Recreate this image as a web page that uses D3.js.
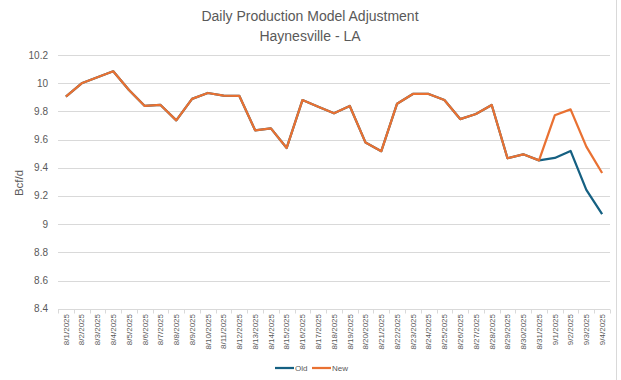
<!DOCTYPE html>
<html lang="en">
<head>
    <meta charset="UTF-8">
    <title>daily-production</title>
    <script src="https://cdn.jsdelivr.net/npm/d3@7"></script>
    <style>
        body { margin: 0; background: #fff; }
        text { font-family: "Liberation Sans", Arial, sans-serif; fill: #595959; }
    </style>
</head>
<body>
    <svg class="chart"></svg>
</body>
<script>
    // categories
    var dates = ['8/1/2025', '8/2/2025', '8/3/2025', '8/4/2025', '8/5/2025', '8/6/2025', '8/7/2025',
        '8/8/2025', '8/9/2025', '8/10/2025', '8/11/2025', '8/12/2025', '8/13/2025', '8/14/2025',
        '8/15/2025', '8/16/2025', '8/17/2025', '8/18/2025', '8/19/2025', '8/20/2025', '8/21/2025',
        '8/22/2025', '8/23/2025', '8/24/2025', '8/25/2025', '8/26/2025', '8/27/2025', '8/28/2025',
        '8/29/2025', '8/30/2025', '8/31/2025', '9/1/2025', '9/2/2025', '9/3/2025', '9/4/2025'];

    // series
    var newVals = [9.905, 10.00, 10.043, 10.085, 9.952, 9.839, 9.846, 9.737, 9.889, 9.931, 9.912,
        9.910, 9.666, 9.680, 9.541, 9.881, 9.834, 9.787, 9.839, 9.579, 9.518, 9.855, 9.924, 9.924,
        9.881, 9.746, 9.782, 9.846, 9.468, 9.496, 9.453, 9.773, 9.815, 9.550, 9.363];
    var oldVals = [9.905, 10.00, 10.043, 10.085, 9.952, 9.839, 9.846, 9.737, 9.889, 9.931, 9.912,
        9.910, 9.666, 9.680, 9.541, 9.881, 9.834, 9.787, 9.839, 9.579, 9.518, 9.855, 9.924, 9.924,
        9.881, 9.746, 9.782, 9.846, 9.468, 9.496, 9.453, 9.470, 9.520, 9.243, 9.072];

    var yTicks = [8.4, 8.6, 8.8, 9, 9.2, 9.4, 9.6, 9.8, 10, 10.2];

    var width = 621, height = 380;
    var plotLeft = 58, plotRight = 610, plotTop = 55.1, plotBottom = 308.7;

    var svg = d3.select('.chart')
        .attr('width', width)
        .attr('height', height);

    var x = d3.scaleBand()
        .domain(dates)
        .range([plotLeft, plotRight]);

    var y = d3.scaleLinear()
        .domain([8.4, 10.2])
        .range([plotBottom, plotTop]);

    // right border
    svg.append('line')
        .attr('x1', 616.5).attr('x2', 616.5)
        .attr('y1', 0).attr('y2', height)
        .attr('stroke', '#d9d9d9');

    // title
    svg.append('text')
        .attr('x', 310).attr('y', 21)
        .attr('text-anchor', 'middle')
        .style('font-size', '14px')
        .text('Daily Production Model Adjustment');
    svg.append('text')
        .attr('x', 310).attr('y', 41)
        .attr('text-anchor', 'middle')
        .style('font-size', '14px')
        .text('Haynesville - LA');

    // gridlines
    svg.append('g')
        .selectAll('line')
        .data(yTicks)
        .enter()
        .append('line')
        .attr('x1', plotLeft).attr('x2', plotRight)
        .attr('y1', function (d) { return Math.round(y(d)) + 0.5; })
        .attr('y2', function (d) { return Math.round(y(d)) + 0.5; })
        .attr('stroke', '#d9d9d9')
        .attr('stroke-width', 1);

    // y labels
    svg.append('g')
        .selectAll('text')
        .data(yTicks)
        .enter()
        .append('text')
        .attr('x', 48)
        .attr('y', function (d) { return y(d); })
        .attr('dy', '0.35em')
        .attr('text-anchor', 'end')
        .style('font-size', '10px')
        .text(function (d) { return d; });

    svg.append('text')
        .attr('transform', 'translate(23,183) rotate(-90)')
        .attr('text-anchor', 'middle')
        .style('font-size', '11.5px')
        .text('Bcf/d');

    // x tick marks at category boundaries
    var edges = dates.map(function (d) { return x(d); }).concat([x.range()[1]]);
    svg.append('g')
        .selectAll('line')
        .data(edges)
        .enter()
        .append('line')
        .attr('x1', function (d) { return Math.round(d) + 0.5; })
        .attr('x2', function (d) { return Math.round(d) + 0.5; })
        .attr('y1', Math.round(plotBottom) + 0.5)
        .attr('y2', Math.round(plotBottom) + 4.5)
        .attr('stroke', '#d9d9d9');

    // x labels
    svg.append('g')
        .selectAll('text')
        .data(dates)
        .enter()
        .append('text')
        .attr('transform', function (d) {
            return 'translate(' + (x(d) + x.bandwidth() / 2) + ',314) rotate(-90)';
        })
        .attr('dy', '0.35em')
        .attr('text-anchor', 'end')
        .style('font-size', '8px')
        .text(function (d) { return d; });

    // lines
    var line = d3.line()
        .x(function (d, i) { return x(dates[i]) + x.bandwidth() / 2; })
        .y(function (d) { return y(d); });

    svg.append('path')
        .datum(oldVals)
        .attr('d', line)
        .attr('fill', 'none')
        .attr('stroke', '#156082')
        .attr('stroke-width', 2.25)
        .attr('stroke-linejoin', 'round');

    svg.append('path')
        .datum(newVals)
        .attr('d', line)
        .attr('fill', 'none')
        .attr('stroke', '#E97132')
        .attr('stroke-width', 2.25)
        .attr('stroke-linejoin', 'round');

    // legend
    var legend = [{ name: 'Old', color: '#156082', x: 275 }, { name: 'New', color: '#E97132', x: 312 }];
    var lg = svg.append('g')
        .selectAll('g')
        .data(legend)
        .enter()
        .append('g')
        .attr('transform', function (d) { return 'translate(' + d.x + ',368)'; });
    lg.append('line')
        .attr('x1', 0).attr('x2', 19)
        .attr('y1', 0).attr('y2', 0)
        .attr('stroke', function (d) { return d.color; })
        .attr('stroke-width', 2.25);
    lg.append('text')
        .attr('x', 20)
        .attr('dy', '0.35em')
        .style('font-size', '8px')
        .text(function (d) { return d.name; });
</script>
</html>
